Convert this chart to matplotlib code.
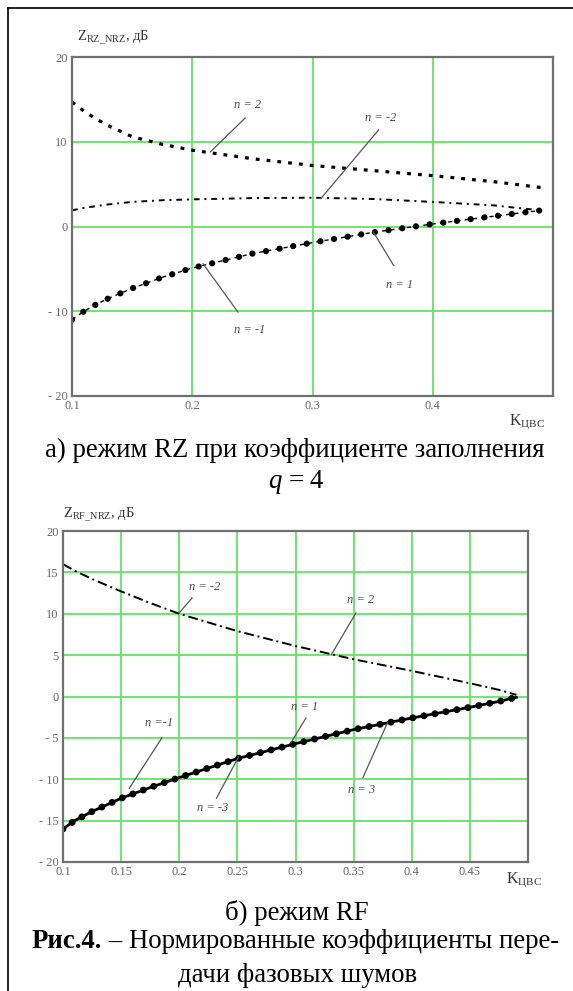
import matplotlib
matplotlib.use("Agg")
import matplotlib.pyplot as plt
from matplotlib.lines import Line2D

plt.rcParams['font.family'] = ['Liberation Serif', 'DejaVu Serif']
plt.rcParams['mathtext.fontset'] = 'custom'
plt.rcParams['mathtext.rm'] = 'Liberation Serif'
plt.rcParams['mathtext.it'] = 'Liberation Serif:italic'
plt.rcParams['mathtext.bf'] = 'Liberation Serif:bold'

# --- a) RZ mode, q = 4
k_rz = [0.1, 0.11, 0.12, 0.13, 0.15, 0.175, 0.2, 0.25, 0.3, 0.35, 0.4, 0.45, 0.49]
z_rz_n2 = [14.7, 13.6, 12.7, 11.9, 10.6, 9.7, 9.0, 8.0, 7.2, 6.6, 6.0, 5.3, 4.6]
z_rz_nm2 = [1.9, 2.2, 2.4, 2.6, 2.9, 3.1, 3.2, 3.35, 3.4, 3.25, 2.9, 2.5, 1.9]
z_rz_n1 = [-11.0, -10.0, -9.2, -8.5, -7.3, -6.0, -4.9, -3.2, -1.9, -0.7, 0.3, 1.2, 1.9]
rz_xticks = [0.1, 0.2, 0.3, 0.4]
rz_xlabels = ['0.1', '0.2', '0.3', '0.4']
rz_yticks = [-20, -10, 0, 10, 20]
rz_ylabels = ['- 20', '- 10', '0', '10', '20']

# --- b) RF mode
k_rf = [0.1, 0.11, 0.125, 0.15, 0.175, 0.2, 0.25, 0.3, 0.35, 0.4, 0.45, 0.475, 0.49]
z_rf_n2 = [16.0, 15.2, 14.2, 12.7, 11.3, 10.0, 7.9, 6.1, 4.5, 3.1, 1.6, 0.8, 0.2]
z_rf_n1 = [-16.0, -15.0, -13.9, -12.3, -11.0, -9.8, -7.5, -5.7, -4.0, -2.6, -1.3, -0.6, -0.1]
rf_xticks = [0.1, 0.15, 0.2, 0.25, 0.3, 0.35, 0.4, 0.45]
rf_xlabels = ['0.1', '0.15', '0.2', '0.25', '0.3', '0.35', '0.4', '0.45']
rf_yticks = [-20, -15, -10, -5, 0, 5, 10, 15, 20]
rf_ylabels = ['- 20', '- 15', '- 10', '- 5', '0', '5', '10', '15', '20']

W, H = 573, 991
fig = plt.figure(figsize=(W / 100, H / 100), dpi=100)
fig.patch.set_facecolor('white')

GREEN = '#62e462'
SPINE = '#707070'
TICKC = '#6a6a6a'
NOTE = '#4a4a4a'


def px(x, y):
    return x / W, 1 - y / H


def setup_axes(ax, xticks, xlabels, yticks, ylabels):
    ax.set_xlim(0.1, 0.5)
    ax.set_ylim(-20, 20)
    ax.set_xticks(xticks)
    ax.set_xticklabels(xlabels)
    ax.set_yticks(yticks)
    ax.set_yticklabels(ylabels)
    ax.tick_params(length=0, labelsize=9, labelcolor=TICKC, pad=3)
    ax.grid(True, color=GREEN, lw=1.3)
    ax.set_axisbelow(True)
    for s in ax.spines.values():
        s.set_color(SPINE)
        s.set_linewidth(1.6)


def note(ax, txt, xy_text, xy_from, xy_to):
    ax.text(xy_text[0], xy_text[1], txt, fontsize=9, style='italic',
            color=NOTE, ha='center', va='center')
    ax.plot([xy_from[0], xy_to[0]], [xy_from[1], xy_to[1]], color='#555555', lw=0.9)


# top chart
ax1 = fig.add_axes([72 / W, 1 - 396 / H, (553 - 72) / W, (396 - 57) / H])
setup_axes(ax1, rz_xticks, rz_xlabels, rz_yticks, rz_ylabels)
ax1.plot(k_rz, z_rz_n2, color='black', lw=2.3, linestyle=(0, (1.2, 2.2)))
ax1.plot(k_rz, z_rz_nm2, color='black', lw=1.4, linestyle=(0, (3, 2.5, 1, 2.5)))
ax1.plot(k_rz, z_rz_n1, color='black', lw=1.0, linestyle=(0, (3, 3)))
ax1.plot(k_rz, z_rz_n1, color='black', lw=4.5, linestyle=(0, (0.01, 2.2)),
         dash_capstyle='round')
note(ax1, 'n = 2', (0.246, 14.3), (0.244, 12.8), (0.215, 8.8))
note(ax1, 'n = -2', (0.357, 12.8), (0.355, 11.4), (0.307, 3.3))
note(ax1, 'n = 1', (0.3725, -6.9), (0.3675, -4.6), (0.35, -0.5))
note(ax1, 'n = -1', (0.2475, -12.2), (0.238, -10.1), (0.209, -4.4))

# bottom chart
ax2 = fig.add_axes([63 / W, 1 - 862 / H, (528 - 63) / W, (862 - 531) / H])
setup_axes(ax2, rf_xticks, rf_xlabels, rf_yticks, rf_ylabels)
ax2.plot(k_rf, z_rf_n2, color='black', lw=1.4, linestyle=(0, (5, 2, 1, 2)))
ax2.plot(k_rf, z_rf_n1, color='black', lw=2.0)
ax2.plot(k_rf, z_rf_n1, color='black', lw=5, linestyle=(0, (0.01, 1.6)),
         dash_capstyle='round')
note(ax2, 'n = -2', (0.222, 13.2), (0.211, 11.9), (0.2, 10.1))
note(ax2, 'n = 2', (0.356, 11.7), (0.352, 10.1), (0.331, 5.1))
note(ax2, 'n =-1', (0.183, -3.2), (0.185, -5.0), (0.157, -11.1))
note(ax2, 'n = 1', (0.3075, -1.3), (0.309, -2.6), (0.296, -5.6))
note(ax2, 'n = -3', (0.229, -13.5), (0.232, -12.3), (0.251, -7.3))
note(ax2, 'n = 3', (0.357, -11.3), (0.358, -9.8), (0.379, -3.2))

# axis titles
fig.text(*px(77, 38), r'Z$_{\mathrm{RZ\_NRZ}}$, дБ', fontsize=10.5, color='#333333',
         ha='left', va='center')
fig.text(*px(63, 515), r'Z$_{\mathrm{RF\_NRZ}}$, дБ', fontsize=10.5, color='#333333',
         ha='left', va='center')
fig.text(*px(527, 422), r'K$_{\mathrm{ЦВС}}$', fontsize=11.5, color='#333333',
         ha='center', va='center')
fig.text(*px(524, 880), r'K$_{\mathrm{ЦВС}}$', fontsize=11.5, color='#333333',
         ha='center', va='center')

# captions
CAP = 19.3
fig.text(*px(295, 450), 'а) режим RZ при коэффициенте заполнения', fontsize=CAP,
         ha='center', va='center')
fig.text(*px(296, 482), r'$q$ = 4', fontsize=CAP, ha='center', va='center')
fig.text(*px(297, 913), 'б) режим RF', fontsize=CAP, ha='center', va='center')
t1 = fig.text(*px(0, 942), 'Рис.4.', fontsize=CAP, weight='bold', ha='left', va='center')
t2 = fig.text(*px(0, 942), ' – Нормированные коэффициенты пере-', fontsize=CAP,
              ha='left', va='center')
fig.text(*px(298, 975), 'дачи фазовых шумов', fontsize=CAP, ha='center', va='center')

r = fig.canvas.get_renderer()
w1 = t1.get_window_extent(r).width
w2 = t2.get_window_extent(r).width
left = 295 - (w1 + w2) / 2
t1.set_x(left / W)
t2.set_x((left + w1) / W)

# frame around the figure
fig.add_artist(Line2D([8 / W, 1], [1 - 7.5 / H, 1 - 7.5 / H], color='black', lw=1.2))
fig.add_artist(Line2D([8 / W, 8 / W], [0, 1 - 7.5 / H], color='black', lw=1.2))

fig.savefig('out.png', dpi=100)
